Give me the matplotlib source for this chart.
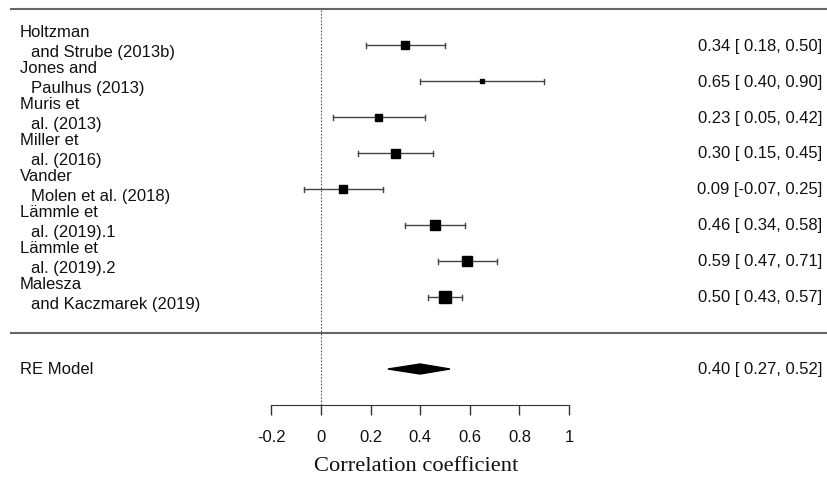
import numpy as np
import matplotlib.pyplot as plt
from matplotlib.patches import Polygon

# study data
studies = [
    ("Holtzman", "and Strube (2013b)"),
    ("Jones and", "Paulhus (2013)"),
    ("Muris et", "al. (2013)"),
    ("Miller et", "al. (2016)"),
    ("Vander", "Molen et al. (2018)"),
    ("Lämmle et", "al. (2019).1"),
    ("Lämmle et", "al. (2019).2"),
    ("Malesza", "and Kaczmarek (2019)"),
]
est = [0.34, 0.65, 0.23, 0.30, 0.09, 0.46, 0.59, 0.50]
lo = [0.18, 0.40, 0.05, 0.15, -0.07, 0.34, 0.47, 0.43]
hi = [0.50, 0.90, 0.42, 0.45, 0.25, 0.58, 0.71, 0.57]
box_px = [8, 4, 7, 9, 8, 10, 10, 12]  # square size, pixels (weight)

re_est, re_lo, re_hi = 0.40, 0.27, 0.52
xticks = [-0.2, 0, 0.2, 0.4, 0.6, 0.8, 1]
xtick_labels = ["-0.2", "0", "0.2", "0.4", "0.6", "0.8", "1"]

plt.rcParams['font.family'] = ['Liberation Sans', 'DejaVu Sans']

W, H = 827, 481
fig = plt.figure(figsize=(W / 100, H / 100), dpi=100)
ax = fig.add_axes([0, 0, 1, 1])

# pixel -> data mapping: x=0 at 321px, x=1 at 569px; row unit = 36px
px_per_x = 248.0
x0_px = 321.0
row_px = 36.0
ax.set_xlim(-x0_px / px_per_x, (W - x0_px) / px_per_x)
ax.set_ylim(9 - (H - 10) / row_px, 9 + 10 / row_px)
for s in ax.spines.values():
    s.set_visible(False)
ax.set_yticks([])

def xpx(p):
    return (p - x0_px) / px_per_x

n = len(studies)
rows = np.arange(n, 0, -1)
line_col = '#444444'
fs = 12

# horizontal separators
ax.plot([xpx(10), xpx(W)], [9, 9], color='#666666', lw=1.5, solid_capstyle='butt')
ax.plot([xpx(10), xpx(W)], [0, 0], color='#666666', lw=1.5, solid_capstyle='butt')

# reference line at 0
ax.plot([0, 0], [-2, 9], color='#555555', lw=0.8, ls=(0, (1.5, 1.5)))

cap = 2.5 / row_px
for y, e, l, h, b, (t1, t2) in zip(rows, est, lo, hi, box_px, studies):
    ax.plot([l, h], [y, y], color=line_col, lw=1)
    ax.plot([l, l], [y - cap, y + cap], color=line_col, lw=1)
    ax.plot([h, h], [y - cap, y + cap], color=line_col, lw=1)
    ax.plot(e, y, marker='s', ms=b * 0.72, color='black', mec='black')
    ax.text(xpx(20), y + 0.26, t1, fontsize=fs, va='baseline', ha='left', color='#111111')
    ax.text(xpx(31), y - 0.31, t2, fontsize=fs, va='baseline', ha='left', color='#111111')
    ax.text(xpx(822), y, f"{e:.2f} [{l:5.2f}, {h:.2f}]", fontsize=fs,
            va='center', ha='right', color='#111111')

# summary diamond
dh = 5 / row_px
ax.add_patch(Polygon([[re_lo, -1], [re_est, -1 + dh], [re_hi, -1], [re_est, -1 - dh]],
                     closed=True, color='black'))
ax.text(xpx(20), -1, "RE Model", fontsize=fs, va='center', ha='left', color='#111111')
ax.text(xpx(822), -1, f"{re_est:.2f} [{re_lo:5.2f}, {re_hi:.2f}]", fontsize=fs,
        va='center', ha='right', color='#111111')

# x axis drawn at row -2
ax.spines['bottom'].set_visible(True)
ax.spines['bottom'].set_position(('data', -2))
ax.spines['bottom'].set_bounds(-0.2, 1)
ax.spines['bottom'].set_color('#333333')
ax.set_xticks(xticks)
ax.set_xticklabels(xtick_labels, fontsize=fs)
ax.tick_params(axis='x', direction='out', length=7, width=1, color='#333333',
               pad=10, labelcolor='#111111')

ax.text(0.385, 9 - (467 - 10) / row_px, "Correlation coefficient", fontsize=16.2,
        family=['Liberation Serif', 'DejaVu Serif'], ha='center', va='center', color='#111111')

fig.savefig("out.png", dpi=100)
